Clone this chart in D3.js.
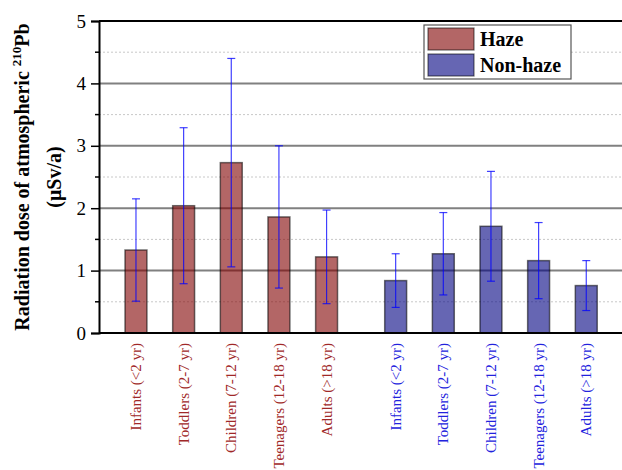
<!DOCTYPE html>
<html>
<head>
<meta charset="utf-8">
<script src="https://d3js.org/d3.v7.min.js"></script>
<style>
    body { margin: 0; background: #fff; }
</style>
</head>
<body>
<svg width="622" height="470" font-family="Liberation Serif"></svg>
<script>
    // groups and categories
    var groups = ["Haze", "Non-haze"];
    var categories = ["Infants (<2 yr)", "Toddlers (2-7 yr)", "Children (7-12 yr)", "Teenagers (12-18 yr)", "Adults (>18 yr)"];
    // mean dose and standard deviation (µSv/a)
    var hazeMean = [1.33, 2.04, 2.73, 1.86, 1.22];
    var hazeSd = [0.82, 1.25, 1.67, 1.14, 0.75];
    var nonHazeMean = [0.84, 1.27, 1.71, 1.16, 0.76];
    var nonHazeSd = [0.43, 0.66, 0.88, 0.61, 0.40];
    var yTicks = [0, 1, 2, 3, 4, 5];

    var serif = "Liberation Serif";
    var groupColor = { "Haze": "#800000", "Non-haze": "#000080" };
    var labelColor = { "Haze": "#a02828", "Non-haze": "#2222dd" };

    var svg = d3.select("svg"),
        margin = { top: 21, right: 0, bottom: 137, left: 99 },
        width = +svg.attr("width") - margin.left - margin.right,
        height = +svg.attr("height") - margin.top - margin.bottom,
        g = svg.append("g").attr("transform", "translate(" + margin.left + "," + margin.top + ")");

    var data = [];
    categories.forEach(function (c, i) {
        data.push({ group: "Haze", cat: c, pos: i + 1, mean: hazeMean[i], sd: hazeSd[i] });
    });
    categories.forEach(function (c, i) {
        data.push({ group: "Non-haze", cat: c, pos: i + 6.45, mean: nonHazeMean[i], sd: nonHazeSd[i] });
    });

    var x = d3.scaleLinear().domain([0.224, 11.2]).range([0, width]);
    var y = d3.scaleLinear().domain([0, 5]).range([height, 0]);
    var barW = x(1.46) - x(1);

    // minor dotted grid
    g.selectAll(".minor")
        .data(d3.range(0.5, 5, 1))
        .enter().append("line")
        .attr("x1", 0).attr("x2", width)
        .attr("y1", y).attr("y2", y)
        .attr("stroke", "#c8c8c8")
        .attr("stroke-dasharray", "2,2")
        .attr("stroke-width", 1);

    // major grid
    g.selectAll(".major")
        .data([1, 2, 3, 4])
        .enter().append("line")
        .attr("x1", 0).attr("x2", width)
        .attr("y1", y).attr("y2", y)
        .attr("stroke", "#808080")
        .attr("stroke-width", 2);

    // bars
    g.selectAll(".bar")
        .data(data)
        .enter().append("rect")
        .attr("x", function (d) { return x(d.pos) - barW / 2; })
        .attr("width", barW)
        .attr("y", function (d) { return y(d.mean); })
        .attr("height", function (d) { return height - y(d.mean); })
        .attr("fill", function (d) { return groupColor[d.group]; })
        .attr("fill-opacity", 0.6)
        .attr("stroke", "#000")
        .attr("stroke-opacity", 0.55)
        .attr("stroke-width", 1.5);

    // error bars
    var err = g.selectAll(".err")
        .data(data)
        .enter().append("g")
        .attr("stroke", "#0000ff")
        .attr("stroke-opacity", 0.75)
        .attr("stroke-width", 1.2);
    err.append("line")
        .attr("x1", function (d) { return x(d.pos); })
        .attr("x2", function (d) { return x(d.pos); })
        .attr("y1", function (d) { return y(d.mean + d.sd); })
        .attr("y2", function (d) { return y(d.mean - d.sd); });
    err.append("line")
        .attr("x1", function (d) { return x(d.pos) - 4; })
        .attr("x2", function (d) { return x(d.pos) + 4; })
        .attr("y1", function (d) { return y(d.mean + d.sd); })
        .attr("y2", function (d) { return y(d.mean + d.sd); });
    err.append("line")
        .attr("x1", function (d) { return x(d.pos) - 4; })
        .attr("x2", function (d) { return x(d.pos) + 4; })
        .attr("y1", function (d) { return y(d.mean - d.sd); })
        .attr("y2", function (d) { return y(d.mean - d.sd); });

    // frame lines
    g.append("line").attr("x1", 0).attr("x2", width).attr("y1", 0).attr("y2", 0)
        .attr("stroke", "#000").attr("stroke-width", 2);
    g.append("line").attr("x1", 0).attr("x2", width).attr("y1", height).attr("y2", height)
        .attr("stroke", "#000").attr("stroke-width", 2);

    // y axis
    var yAxis = g.append("g")
        .call(d3.axisLeft(y).tickValues(yTicks).tickFormat(d3.format("d")).tickSize(8).tickPadding(5));
    yAxis.attr("font-family", serif);
    yAxis.select(".domain").attr("stroke-width", 2);
    yAxis.selectAll(".tick line").attr("stroke-width", 1.5);
    yAxis.selectAll("text")
        .attr("font-family", serif)
        .attr("font-size", 19)
        .attr("fill", "#000");
    g.selectAll(".ytickMinor")
        .data(d3.range(0.5, 5, 1))
        .enter().append("line")
        .attr("x1", -4).attr("x2", 0)
        .attr("y1", y).attr("y2", y)
        .attr("stroke", "#000").attr("stroke-width", 1.5);

    // x labels
    g.selectAll(".xlab")
        .data(data)
        .enter().append("text")
        .attr("transform", function (d) { return "translate(" + (x(d.pos) + 5) + "," + (height + 10) + ") rotate(-90)"; })
        .attr("text-anchor", "end")
        .attr("font-family", serif)
        .attr("font-size", 15)
        .attr("fill", function (d) { return labelColor[d.group]; })
        .text(function (d) { return d.cat; });

    // y title
    var title = svg.append("text")
        .attr("transform", "translate(29,177) rotate(-90)")
        .attr("text-anchor", "middle")
        .attr("font-family", serif)
        .attr("font-weight", "bold")
        .attr("font-size", 20);
    title.append("tspan").text("Radiation dose of atmospheric ");
    title.append("tspan").attr("dy", -8).attr("font-size", 13).text("210");
    title.append("tspan").attr("dy", 8).text("Pb");
    svg.append("text")
        .attr("transform", "translate(61,177) rotate(-90)")
        .attr("text-anchor", "middle")
        .attr("font-family", serif)
        .attr("font-weight", "bold")
        .attr("font-size", 20)
        .text("(\u03bcSv/a)");

    // legend
    var leg = svg.append("g").attr("transform", "translate(424,25)");
    leg.append("rect").attr("width", 147).attr("height", 54)
        .attr("fill", "#fff").attr("stroke", "#555").attr("stroke-width", 1.2);
    groups.forEach(function (grp, i) {
        leg.append("rect")
            .attr("x", 4).attr("y", 3 + i * 26)
            .attr("width", 46).attr("height", 22)
            .attr("fill", groupColor[grp]).attr("fill-opacity", 0.6)
            .attr("stroke", "#000").attr("stroke-opacity", 0.55).attr("stroke-width", 1.2);
        leg.append("text")
            .attr("x", 56).attr("y", 21 + i * 26)
            .attr("font-family", serif)
            .attr("font-weight", "bold")
            .attr("font-size", 20)
            .text(grp);
    });
</script>
</body>
</html>
